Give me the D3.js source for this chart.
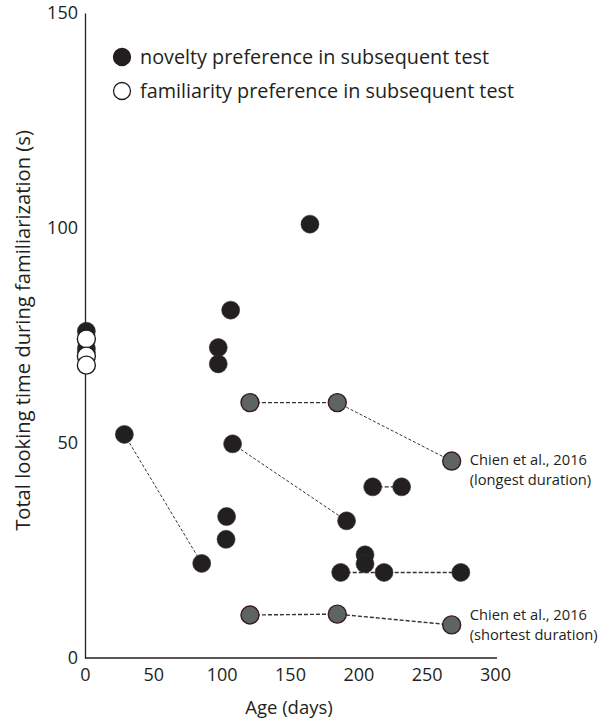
<!DOCTYPE html>
<html>
<head>
<meta charset="utf-8">
<script src="https://cdn.jsdelivr.net/npm/d3@7"></script>
<style>
  html, body { margin: 0; padding: 0; background: #fff; }
  svg { display: block; font-family: "Open Sans", "Noto Sans", sans-serif; }
</style>
</head>
<body>
<svg id="chart" width="603" height="724"></svg>
<script>
// Individual studies: age (days) vs total looking time (s)
const noveltyAge  = [1, 1, 1, 28.8, 85.4, 97.5, 97.5, 106.6, 103.6, 103.2, 108, 164.6, 191.4, 210.5, 231.7, 187.1, 204.9, 204.9, 218.8, 275];
const noveltyTime = [76, 72, 71, 52, 22, 72.2, 68.4, 80.9, 32.9, 27.6, 49.8, 100.9, 31.9, 39.8, 39.8, 19.9, 24, 21.9, 19.9, 19.9];

const familiarityAge  = [1, 1, 1];
const familiarityTime = [74.2, 70.2, 68.1];

// Chien et al., 2016 (grey markers)
const chienLongAge   = [120.7, 184.6, 268.3];
const chienLongTime  = [59.4, 59.4, 45.8];
const chienShortAge  = [120.7, 184.6, 268.3];
const chienShortTime = [10, 10.2, 7.7];

// Same-sample links between ages: [age, time] pairs
const linksThin = [
  [[28.8, 52], [85.4, 22]],
  [[108, 49.8], [191.4, 31.9]],
  [[184.6, 59.4], [268.3, 45.8]]
];
const linksDash = [
  [[120.7, 59.4], [184.6, 59.4]],
  [[210.5, 39.8], [231.7, 39.8]],
  [[187.1, 19.9], [218.8, 19.9], [275, 19.9]],
  [[120.7, 10], [184.6, 10.2], [268.3, 7.7]]
];

const xTicks = [0, 50, 100, 150, 200, 250, 300];
const yTicks = [0, 50, 100, 150];

const legendLabels = ["novelty preference in subsequent test", "familiarity preference in subsequent test"];
const chienLabels = [
  ["Chien et al., 2016", "(longest duration)"],
  ["Chien et al., 2016", "(shortest duration)"]
];

const svg = d3.select("#chart");
const x = d3.scaleLinear().domain([0, 300]).range([85, 495]);
const y = d3.scaleLinear().domain([0, 150]).range([658, 13]);
const R = 9;
const black = "#231f20";
const grey = "#5e6363";

// Axes
const xAxis = svg.append("g").attr("transform", `translate(0,${y(0)})`)
  .call(d3.axisBottom(x).tickValues(xTicks).tickSize(0).tickPadding(10).tickFormat(d3.format("d")));
const yAxis = svg.append("g").attr("transform", `translate(${x(0)},0)`)
  .call(d3.axisLeft(y).tickValues(yTicks).tickSize(0).tickPadding(7).tickFormat(d3.format("d")));
[xAxis, yAxis].forEach(g => {
  g.select(".domain").attr("stroke", black).attr("stroke-width", 1.3);
  g.selectAll("text").attr("font-size", 18).attr("fill", black)
    .attr("font-family", "'Open Sans', sans-serif");
});
xAxis.select(".domain").attr("d", `M${x(0)},0H${x(300) + 2}`);

// Axis titles
svg.append("text").attr("x", (x(0) + x(300)) / 2 - 1).attr("y", 714)
  .attr("text-anchor", "middle").attr("font-size", 18.5).attr("fill", black)
  .text("Age (days)");
svg.append("text")
  .attr("transform", `translate(30,${(y(0) + y(150)) / 2 - 5}) rotate(-90)`)
  .attr("text-anchor", "middle").attr("font-size", 20.2).attr("fill", black)
  .text("Total looking time during familiarization (s)");

// Connecting lines
const line = d3.line().x(d => x(d[0])).y(d => y(d[1]));
svg.append("g").selectAll("path").data(linksThin).join("path")
  .attr("d", line).attr("fill", "none").attr("stroke", "#333")
  .attr("stroke-width", 1).attr("stroke-dasharray", "3,2");
svg.append("g").selectAll("path").data(linksDash).join("path")
  .attr("d", line).attr("fill", "none").attr("stroke", "#333")
  .attr("stroke-width", 1.4).attr("stroke-dasharray", "4,2");

// Markers
const pts = (ax, ty) => ax.map((a, i) => [a, ty[i]]);
svg.append("g").selectAll("circle").data(pts(noveltyAge, noveltyTime)).join("circle")
  .attr("cx", d => x(d[0])).attr("cy", d => y(d[1])).attr("r", R)
  .attr("fill", black).attr("stroke", "#2a3440").attr("stroke-width", 0.6);
svg.append("g").selectAll("circle").data(pts(familiarityAge, familiarityTime)).join("circle")
  .attr("cx", d => x(d[0])).attr("cy", d => y(d[1])).attr("r", R)
  .attr("fill", "#fff").attr("stroke", black).attr("stroke-width", 1.4);
svg.append("g").selectAll("circle")
  .data(pts(chienLongAge, chienLongTime).concat(pts(chienShortAge, chienShortTime))).join("circle")
  .attr("cx", d => x(d[0])).attr("cy", d => y(d[1])).attr("r", R)
  .attr("fill", grey).attr("stroke", "#3a1a1c").attr("stroke-width", 1.4);

// Chien annotations, placed beside the last marker of each series
const chienAnchor = [[chienLongAge[2], chienLongTime[2]], [chienShortAge[2], chienShortTime[2]]];
const chienShift = [4, -5];
chienLabels.forEach((lines, i) => {
  const tx = x(chienAnchor[i][0]) + 18;
  const t = svg.append("text")
    .attr("x", tx).attr("y", y(chienAnchor[i][1]) + chienShift[i])
    .attr("font-size", 14.7).attr("fill", black);
  lines.forEach((s, j) => t.append("tspan").attr("x", tx)
    .attr("dy", j === 0 ? 0 : 20).text(s));
});

// Legend
const legend = svg.append("g");
legendLabels.forEach((s, i) => {
  const cy = 57 + i * 34;
  legend.append("circle").attr("cx", 122).attr("cy", cy).attr("r", R - 0.5)
    .attr("fill", i === 0 ? black : "#fff").attr("stroke", black).attr("stroke-width", 1.3);
  legend.append("text").attr("x", 140).attr("y", cy + 6.5)
    .attr("font-size", 19.8).attr("fill", black).text(s);
});
</script>
</body>
</html>
